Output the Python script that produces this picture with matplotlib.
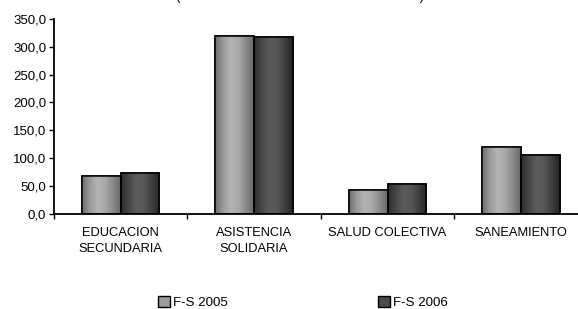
import numpy as np
import matplotlib
matplotlib.use("Agg")
import matplotlib.pyplot as plt
from matplotlib.patches import Rectangle
from matplotlib.colors import LinearSegmentedColormap

plt.rcParams['font.family'] = ['Liberation Sans', 'DejaVu Sans']

categories = ["EDUCACION\nSECUNDARIA", "ASISTENCIA\nSOLIDARIA", "SALUD COLECTIVA", "SANEAMIENTO"]
series_names = ["F-S 2005", "F-S 2006"]
fs_2005 = [68, 320, 42, 120]
fs_2006 = [73, 317, 54, 105]
yticks = [0, 50, 100, 150, 200, 250, 300, 350]

light_cmap = LinearSegmentedColormap.from_list(
    "light", ["#6e6e6e", "#9a9a9a", "#b4b4b4", "#a8a8a8", "#8a8a8a", "#6a6a6a"])
dark_cmap = LinearSegmentedColormap.from_list(
    "dark", ["#2e2e2e", "#474747", "#5c5c5c", "#565656", "#3e3e3e", "#262626"])

fig = plt.figure(figsize=(5.78, 3.09), dpi=100)
ax = fig.add_axes([0.0934, 0.309, 0.912, 0.6295])

x = np.arange(len(categories))
w = 0.29
grad = np.linspace(0, 1, 64).reshape(1, -1)

for vals, off, cmap, col in [(fs_2005, -w / 2, light_cmap, "#9a9a9a"),
                             (fs_2006, w / 2, dark_cmap, "#4a4a4a")]:
    bars = ax.bar(x + off, vals, w, color=col, edgecolor="black", linewidth=1.1, zorder=2)
    for b in bars:
        x0, y0 = b.get_x(), b.get_y()
        im = ax.imshow(grad, cmap=cmap, aspect="auto", zorder=2.5,
                       extent=[x0, x0 + b.get_width(), y0, y0 + b.get_height()])
        im.set_clip_path(b)
        ax.add_patch(Rectangle((x0, y0), b.get_width(), b.get_height(), fill=False,
                               edgecolor="black", linewidth=1.1, zorder=3))

ax.set_xlim(-0.5, 3.45)
ax.set_ylim(0, 350)
ax.set_yticks(yticks)
ax.set_yticklabels([f"{v:.1f}".replace(".", ",") for v in yticks], fontsize=9.5)
ax.set_xticks(x)
ax.set_xticklabels(categories, fontsize=9.3, linespacing=1.45)
ax.tick_params(axis="x", length=0, pad=10)
ax.set_xticks(np.arange(-0.5, 3.5, 1), minor=True)
ax.tick_params(axis="x", which="minor", length=3.5, width=1, direction="out")
ax.tick_params(axis="y", length=3.6, width=1, direction="out", pad=2)
for s in ["top", "right"]:
    ax.spines[s].set_visible(False)
for s in ["left", "bottom"]:
    ax.spines[s].set_linewidth(1.3)
ax.spines["bottom"].set_zorder(4)

handles = [Rectangle((0, 0), 1, 1, facecolor="#9a9a9a", edgecolor="black"),
           Rectangle((0, 0), 1, 1, facecolor="#4a4a4a", edgecolor="black")]
fig.legend(handles, series_names, loc="center", bbox_to_anchor=(0.524, 0.022), ncol=2,
           frameon=False, fontsize=9.6, handlelength=0.9, handleheight=0.9,
           handletextpad=0.25, columnspacing=11.2, borderpad=0, borderaxespad=0)

fig.text(0.519, 0.999, "(" + " " * 66 + ")", ha="center", va="baseline", fontsize=9.5)

fig.savefig("out.png", dpi=100)
